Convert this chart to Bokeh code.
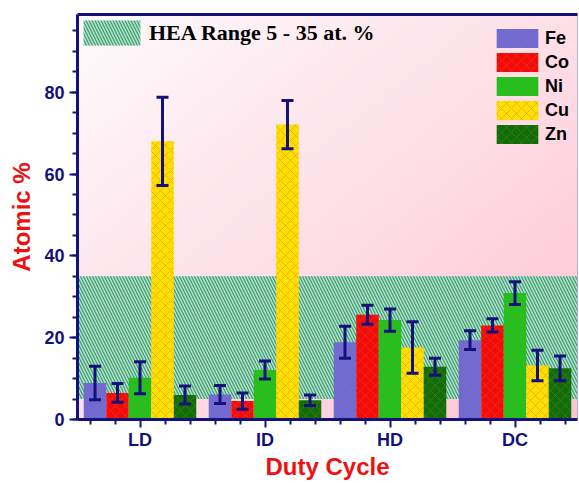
import numpy as np
from bokeh.plotting import figure
from bokeh.models import (ColumnDataSource, Whisker, TeeHead, FixedTicker,
                          LinearAxis, Legend, LegendItem, Range1d)
from bokeh.embed import file_html
from bokeh.resources import INLINE

duty_cycles = ["LD", "ID", "HD", "DC"]
elements = ["Fe", "Co", "Ni", "Cu", "Zn"]
colors = ["#6b6bdc", "#f50a0a", "#1ec41e", "#ffe000", "#0a700a"]

fe = [8.9, 6.1, 18.9, 19.4]
fe_err = [4.1, 2.2, 3.9, 2.3]
co = [6.5, 4.5, 25.6, 23.0]
co_err = [2.3, 2.0, 2.3, 1.6]
ni = [10.2, 12.1, 24.3, 30.9]
ni_err = [3.9, 2.2, 2.7, 2.8]
cu = [68.0, 72.1, 17.6, 13.2]
cu_err = [10.8, 5.9, 6.3, 3.7]
zn = [6.0, 4.7, 12.9, 12.5]
zn_err = [2.2, 1.3, 2.1, 3.0]

hea_range = [5, 35]
y_ticks = [0, 20, 40, 60, 80]

values = [fe, co, ni, cu, zn]
errors = [fe_err, co_err, ni_err, cu_err, zn_err]

NAVY = "#12127a"
X0, X1 = 0.5, 4.5
Y0, Y1 = 0, 99
BAR_W = 0.18

p = figure(width=579, height=483, output_backend="svg", toolbar_location=None,
           x_range=Range1d(X0, X1), y_range=Range1d(Y0, Y1),
           min_border_left=77, min_border_right=2, min_border_top=14,
           min_border_bottom=64, background_fill_color="white",
           border_fill_color="white")
p.xgrid.visible = False
p.ygrid.visible = False
p.outline_line_color = "#a8a8e0"
p.outline_line_width = 1

# background gradient (white top-left -> pink bottom-right)
H, W = 120, 150
u = np.linspace(0, 1, W)[None, :]
v = np.linspace(0, 1, H)[:, None]
t = np.clip((u + (1 - v)) / 2.0, 0, 1)
c0 = np.array([253, 251, 252])
c1 = np.array([255, 196, 212])
rgb = c0[None, None, :] + (c1 - c0)[None, None, :] * t[:, :, None]
img = np.zeros((H, W), dtype=np.uint32)
view = img.view(dtype=np.uint8).reshape((H, W, 4))
view[:, :, 0] = rgb[:, :, 0].astype(np.uint8)
view[:, :, 1] = rgb[:, :, 1].astype(np.uint8)
view[:, :, 2] = rgb[:, :, 2].astype(np.uint8)
view[:, :, 3] = 255
p.image_rgba(image=[img], x=X0, y=Y0, dw=X1 - X0, dh=Y1 - Y0)

# HEA range band
hea = p.quad(left=[X0], right=[X1], bottom=[hea_range[0]], top=[hea_range[1]],
             fill_color="#cacaf2", line_color=None,
             hatch_pattern="left_diagonal_line", hatch_color="#1db83a",
             hatch_weight=1.2, hatch_scale=6)

centers = np.arange(1, len(duty_cycles) + 1)
offsets = [(j - 2) * BAR_W for j in range(len(elements))]

bar_renderers = []
for j, el in enumerate(elements):
    xs = centers + offsets[j]
    top = np.array(values[j])
    err = np.array(errors[j])
    src = ColumnDataSource(dict(x=xs, top=top, upper=top + err, lower=top - err))
    r = p.vbar(x="x", top="top", width=BAR_W, bottom=0, source=src,
               fill_color=colors[j], line_color=None,
               hatch_pattern="diagonal_cross", hatch_color="#d8641c",
               hatch_alpha=0.45, hatch_scale=10, hatch_weight=0.8)
    bar_renderers.append(r)
    w = Whisker(source=src, base="x", upper="upper", lower="lower",
                line_color=NAVY, line_width=3, level="overlay",
                upper_head=TeeHead(size=12, line_color=NAVY, line_width=3),
                lower_head=TeeHead(size=12, line_color=NAVY, line_width=3))
    p.add_layout(w)

# axes
minor_x = sorted(set(float(round(c + o, 3)) for c in centers for o in [-0.4, -0.2, 0.2, 0.4]))
p.xaxis.ticker = FixedTicker(ticks=list(centers), minor_ticks=minor_x)
p.xaxis.major_label_overrides = {int(c): name for c, name in zip(centers, duty_cycles)}
p.yaxis.ticker = FixedTicker(ticks=y_ticks, minor_ticks=list(range(0, 100, 5)))

for ax in [p.xaxis[0], p.yaxis[0]]:
    ax.axis_line_color = NAVY
    ax.axis_line_width = 3
    ax.major_tick_line_color = NAVY
    ax.major_tick_line_width = 2
    ax.major_tick_out = 8
    ax.major_tick_in = 0
    ax.minor_tick_line_color = NAVY
    ax.minor_tick_line_width = 2
    ax.minor_tick_out = 5
    ax.minor_tick_in = 0
    ax.major_label_text_color = NAVY
    ax.major_label_text_font = "Liberation Sans"
    ax.major_label_text_font_style = "bold"
    ax.major_label_text_font_size = "18px"
    ax.axis_label_text_color = "#ee1111"
    ax.axis_label_text_font = "Liberation Sans"
    ax.axis_label_text_font_style = "bold"
    ax.axis_label_text_font_size = "24px"

p.xaxis.axis_label = "Duty Cycle"
p.yaxis.axis_label = "Atomic %"
p.xaxis.major_label_standoff = 2
p.xaxis.axis_label_standoff = 0
p.yaxis.major_label_standoff = 5
p.yaxis.axis_label_standoff = 6

top_axis = LinearAxis(ticker=FixedTicker(ticks=[]), axis_line_color=NAVY,
                      axis_line_width=3, major_tick_out=0, major_tick_in=0,
                      minor_tick_out=0, minor_tick_in=0,
                      major_label_text_font_size="0px", major_label_standoff=0)
p.add_layout(top_axis, "above")

# legends
leg_el = Legend(items=[LegendItem(label=el, renderers=[r]) for el, r in zip(elements, bar_renderers)],
                location=(414, 273), glyph_width=52, glyph_height=24, spacing=0,
                label_text_font="Liberation Sans", label_text_font_style="bold",
                label_text_font_size="18px", label_text_color="black",
                label_standoff=2, margin=0, padding=5,
                border_line_color=None, background_fill_alpha=0)
p.add_layout(leg_el)

leg_hea = Legend(items=[LegendItem(label="HEA Range 5 - 35 at. %", renderers=[hea])],
                 location=(-1, 371), glyph_width=71, glyph_height=31,
                 label_text_font="Liberation Serif", label_text_font_style="bold",
                 label_text_font_size="22px", label_text_color="black",
                 label_standoff=2, margin=0, padding=0,
                 border_line_color=None, background_fill_alpha=0)
p.add_layout(leg_hea)

open("out.html", "w").write(file_html(p, INLINE))
